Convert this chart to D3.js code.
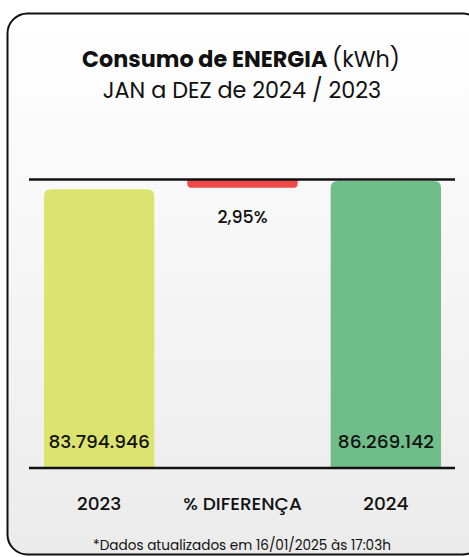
<!DOCTYPE html>
<html><head><meta charset="utf-8">
<script src="https://cdn.jsdelivr.net/npm/d3@7"></script>
<style>
html,body{margin:0;padding:0;background:#fff;}
svg{display:block;}
text{font-family:Poppins,Inter,"Open Sans",sans-serif;fill:#111;}
</style></head>
<body>
<script>
const categories = ["2023", "% DIFERENÇA", "2024"];
const years = ["2023", "2024"];
const consumo = [83794946, 86269142];
const diferencaPct = [2.95];
const titleText = ["Consumo de ENERGIA", "(kWh)"];
const subtitleText = "JAN a DEZ de 2024 / 2023";
const footnote = "*Dados atualizados em 16/01/2025 às 17:03h";

const W = 469, H = 557;
const svg = d3.select("body").append("svg").attr("width", W).attr("height", H);

const defs = svg.append("defs");
const grad = defs.append("linearGradient").attr("id","bg").attr("x1",0).attr("y1",0).attr("x2",0).attr("y2",1);
grad.append("stop").attr("offset","0%").attr("stop-color","#ffffff");
grad.append("stop").attr("offset","100%").attr("stop-color","#ebebeb");

svg.append("rect").attr("x",7.5).attr("y",13.5).attr("width",475).attr("height",541)
  .attr("rx",20).attr("fill","url(#bg)").attr("stroke","#111").attr("stroke-width",2);

const loc = d3.formatLocale({decimal:",", thousands:".", grouping:[3], currency:["",""]});
const fmt = loc.format(",d");
const fmtPct = v => loc.format(".2f")(v) + "%";

const x = d3.scaleBand().domain(categories).range([11, 474]).padding(0.23);
const y = d3.scaleLinear().domain([0, d3.max(consumo)]).range([468, 181]);
const topLine = 179.5, baseLine = 468;

function topRounded(x0, y0, w, h, r) {
  return `M${x0},${y0+h}V${y0+r}Q${x0},${y0} ${x0+r},${y0}H${x0+w-r}Q${x0+w},${y0} ${x0+w},${y0+r}V${y0+h}Z`;
}
function bottomRounded(x0, y0, w, h, r) {
  return `M${x0},${y0}H${x0+w}V${y0+h-r}Q${x0+w},${y0+h} ${x0+w-r},${y0+h}H${x0+r}Q${x0},${y0+h} ${x0},${y0+h-r}Z`;
}

const colors = {"2023":"#dde36f", "2024":"#6fbe8a"};
const data = years.map((k,i)=>({k, v: consumo[i]}));

svg.append("g").selectAll("path").data(data).join("path")
  .attr("d", d => topRounded(x(d.k), y(d.v), x.bandwidth(), baseLine - y(d.v), 7))
  .attr("fill", d => colors[d.k]);

// difference bar (hanging from top line)
const diffAbs = consumo[1] - consumo[0];
const dh = y(0) - y(diffAbs);
svg.append("path")
  .attr("d", bottomRounded(x("% DIFERENÇA"), topLine, x.bandwidth(), dh, 4))
  .attr("fill", "#ef4a4a");

// lines
svg.append("line").attr("x1",29).attr("x2",455).attr("y1",topLine).attr("y2",topLine)
  .attr("stroke","#111").attr("stroke-width",2.5);
svg.append("line").attr("x1",29).attr("x2",455).attr("y1",baseLine).attr("y2",baseLine)
  .attr("stroke","#111").attr("stroke-width",2.5);

// value labels
svg.append("g").selectAll("text").data(data).join("text")
  .attr("x", d => x(d.k) + x.bandwidth()/2).attr("y", 447.5)
  .attr("text-anchor","middle").attr("font-size",18.5).attr("font-weight",500)
  .text(d => fmt(d.v));

svg.append("text").attr("x", x("% DIFERENÇA") + x.bandwidth()/2).attr("y", 223)
  .attr("text-anchor","middle").attr("font-size",17.5).attr("font-weight",500)
  .text(fmtPct(diferencaPct[0]));

// category axis
const axis = svg.append("g").attr("transform",`translate(0,${baseLine})`)
  .call(d3.axisBottom(x).tickSize(0).tickPadding(29));
axis.select(".domain").remove();
axis.selectAll("text").attr("font-size",18.5).attr("font-weight",500)
  .style("font-family","Poppins,Inter,'Open Sans',sans-serif").attr("fill","#111");

// titles
const t = svg.append("text").attr("x",241).attr("y",67).attr("text-anchor","middle").attr("font-size",22.3);
t.append("tspan").attr("font-weight",700).text(titleText[0] + " ");
t.append("tspan").attr("font-weight",400).text(titleText[1]);
svg.append("text").attr("x",242).attr("y",97.5).attr("text-anchor","middle").attr("font-size",22.3)
  .attr("font-weight",400).text(subtitleText);

svg.append("text").attr("x",242).attr("y",550).attr("text-anchor","middle").attr("font-size",13.6)
  .attr("font-weight",400).text(footnote);
</script>
</body></html>
